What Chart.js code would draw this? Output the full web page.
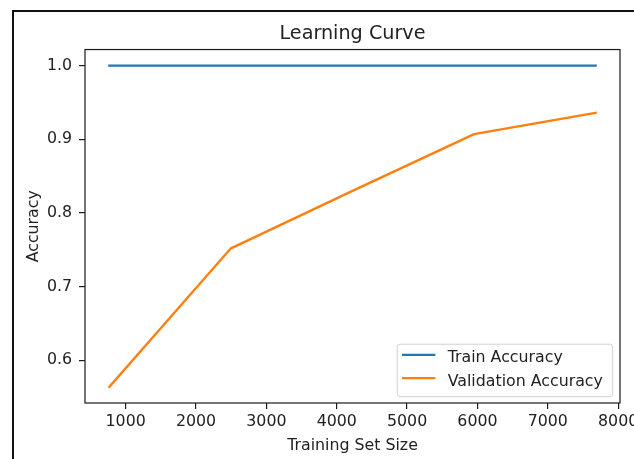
<!DOCTYPE html>
<html><head><meta charset="utf-8">
<script src="https://cdn.jsdelivr.net/npm/chart.js@4.4.1/dist/chart.umd.min.js"></script>
<style>
html,body{margin:0;padding:0;background:#fff;overflow:hidden;width:634px;height:459px}
#wrap{position:absolute;left:0;top:0;width:680px;height:459px}
</style></head><body>
<div id="wrap"><canvas id="c" width="680" height="459" style="width:680px;height:459px"></canvas></div>
<script>
const trainSizes = [768, 2496, 4224, 5952, 7680];
const trainAccuracy = [1.0, 1.0, 1.0, 1.0, 1.0];
const validationAccuracy = [0.564, 0.752, 0.830, 0.907, 0.936];
const seriesLabels = ['Train Accuracy', 'Validation Accuracy'];
const seriesColors = ['#1f77b4', '#ff7f0e'];
const xTickValues = [1000, 2000, 3000, 4000, 5000, 6000, 7000, 8000];
const yTickValues = [0.6, 0.7, 0.8, 0.9, 1.0];
const xLimits = [422, 8026];
const yLimits = [0.5421, 1.0218];
const chartTitle = 'Learning Curve';
const xTitle = 'Training Set Size';
const yTitle = 'Accuracy';

const FONT = '"DejaVu Sans", sans-serif';
const TXT = '#222222';
const FS = 15.8;

const toPoints = (xs, ys) => xs.map((x, i) => ({x: x, y: ys[i]}));

const framePlugin = {
  id: 'mplFrame',
  afterDraw(chart) {
    const {ctx, chartArea: a} = chart;
    ctx.save();
    ctx.strokeStyle = '#1a1a1a';
    ctx.lineWidth = 1.2;
    ctx.strokeRect(a.left, a.top, a.right - a.left, a.bottom - a.top);
    ctx.strokeStyle = '#111';
    ctx.lineWidth = 2;
    ctx.beginPath();
    ctx.moveTo(13, 459);
    ctx.lineTo(13, 11);
    ctx.lineTo(680, 11);
    ctx.stroke();
    ctx.restore();
  }
};

const legendPlugin = {
  id: 'mplLegend',
  afterDatasetsDraw(chart) {
    const {ctx, chartArea: a} = chart;
    const w = 215.5, h = 52.5;
    const x = a.right - 7.3 - w, y = a.bottom - 6.3 - h;
    ctx.save();
    ctx.beginPath();
    if (ctx.roundRect) ctx.roundRect(x, y, w, h, 3); else ctx.rect(x, y, w, h);
    ctx.fillStyle = 'rgba(255,255,255,0.8)';
    ctx.fill();
    ctx.strokeStyle = '#d0d0d0';
    ctx.lineWidth = 1;
    ctx.stroke();
    chart.data.datasets.forEach((ds, i) => {
      const ly = y + 10.7 + i * 23.3;
      ctx.strokeStyle = ds.borderColor;
      ctx.lineWidth = 2.3;
      ctx.lineCap = 'square';
      ctx.beginPath();
      ctx.moveTo(x + 6, ly);
      ctx.lineTo(x + 37, ly);
      ctx.stroke();
      ctx.fillStyle = TXT;
      ctx.font = FS + 'px ' + FONT;
      ctx.textBaseline = 'alphabetic';
      ctx.textAlign = 'left';
      ctx.fillText(ds.label, x + 50.5, ly + 7.3);
    });
    ctx.restore();
  }
};

const datasets = [trainAccuracy, validationAccuracy].map((vals, i) => ({
  label: seriesLabels[i],
  data: toPoints(trainSizes, vals),
  borderColor: seriesColors[i],
  backgroundColor: seriesColors[i],
  borderWidth: 2.3,
  borderCapStyle: 'square',
  borderJoinStyle: 'round',
  pointRadius: 0,
  pointHoverRadius: 0,
  tension: 0,
  fill: false
}));

new Chart(document.getElementById('c'), {
  type: 'line',
  data: {datasets: datasets},
  plugins: [framePlugin, legendPlugin],
  options: {
    responsive: false,
    animation: false,
    devicePixelRatio: 1,
    layout: {padding: {left: 0, right: 60, top: 0, bottom: 0}},
    plugins: {
      legend: {display: false},
      tooltip: {enabled: false},
      title: {
        display: true,
        text: chartTitle,
        fullSize: false,
        color: TXT,
        font: {family: FONT, size: 19.2, weight: 'normal', lineHeight: 1.2},
        padding: {top: 22.4, bottom: 4.1}
      }
    },
    scales: {
      x: {
        type: 'linear',
        min: xLimits[0],
        max: xLimits[1],
        afterBuildTicks: s => { s.ticks = xTickValues.map(v => ({value: v})); },
        afterFit: s => { s.height = 56; s.paddingLeft = 0; s.paddingRight = 0; },
        ticks: {
          color: TXT,
          font: {family: FONT, size: FS},
          padding: 3.8,
          maxRotation: 0,
          autoSkip: false,
          callback: v => String(v)
        },
        grid: {drawOnChartArea: false, drawTicks: true, tickLength: 6, color: '#1a1a1a', lineWidth: 1.2},
        border: {display: false},
        title: {
          display: true,
          text: xTitle,
          color: TXT,
          font: {family: FONT, size: FS, lineHeight: 1.2},
          padding: {top: 0, bottom: 3.3}
        }
      },
      y: {
        type: 'linear',
        min: yLimits[0],
        max: yLimits[1],
        afterBuildTicks: s => { s.ticks = yTickValues.map(v => ({value: v})); },
        afterFit: s => { s.width = 85; s.paddingTop = 0; s.paddingBottom = 0; },
        ticks: {
          color: TXT,
          font: {family: FONT, size: FS},
          padding: 7,
          autoSkip: false,
          callback: v => Number(v).toFixed(1)
        },
        grid: {drawOnChartArea: false, drawTicks: true, tickLength: 6, color: '#1a1a1a', lineWidth: 1.2},
        border: {display: false},
        title: {
          display: true,
          text: yTitle,
          color: TXT,
          font: {family: FONT, size: FS, lineHeight: 1.2},
          padding: {top: 24.2, bottom: 0}
        }
      }
    }
  }
});
</script>
</body></html>
